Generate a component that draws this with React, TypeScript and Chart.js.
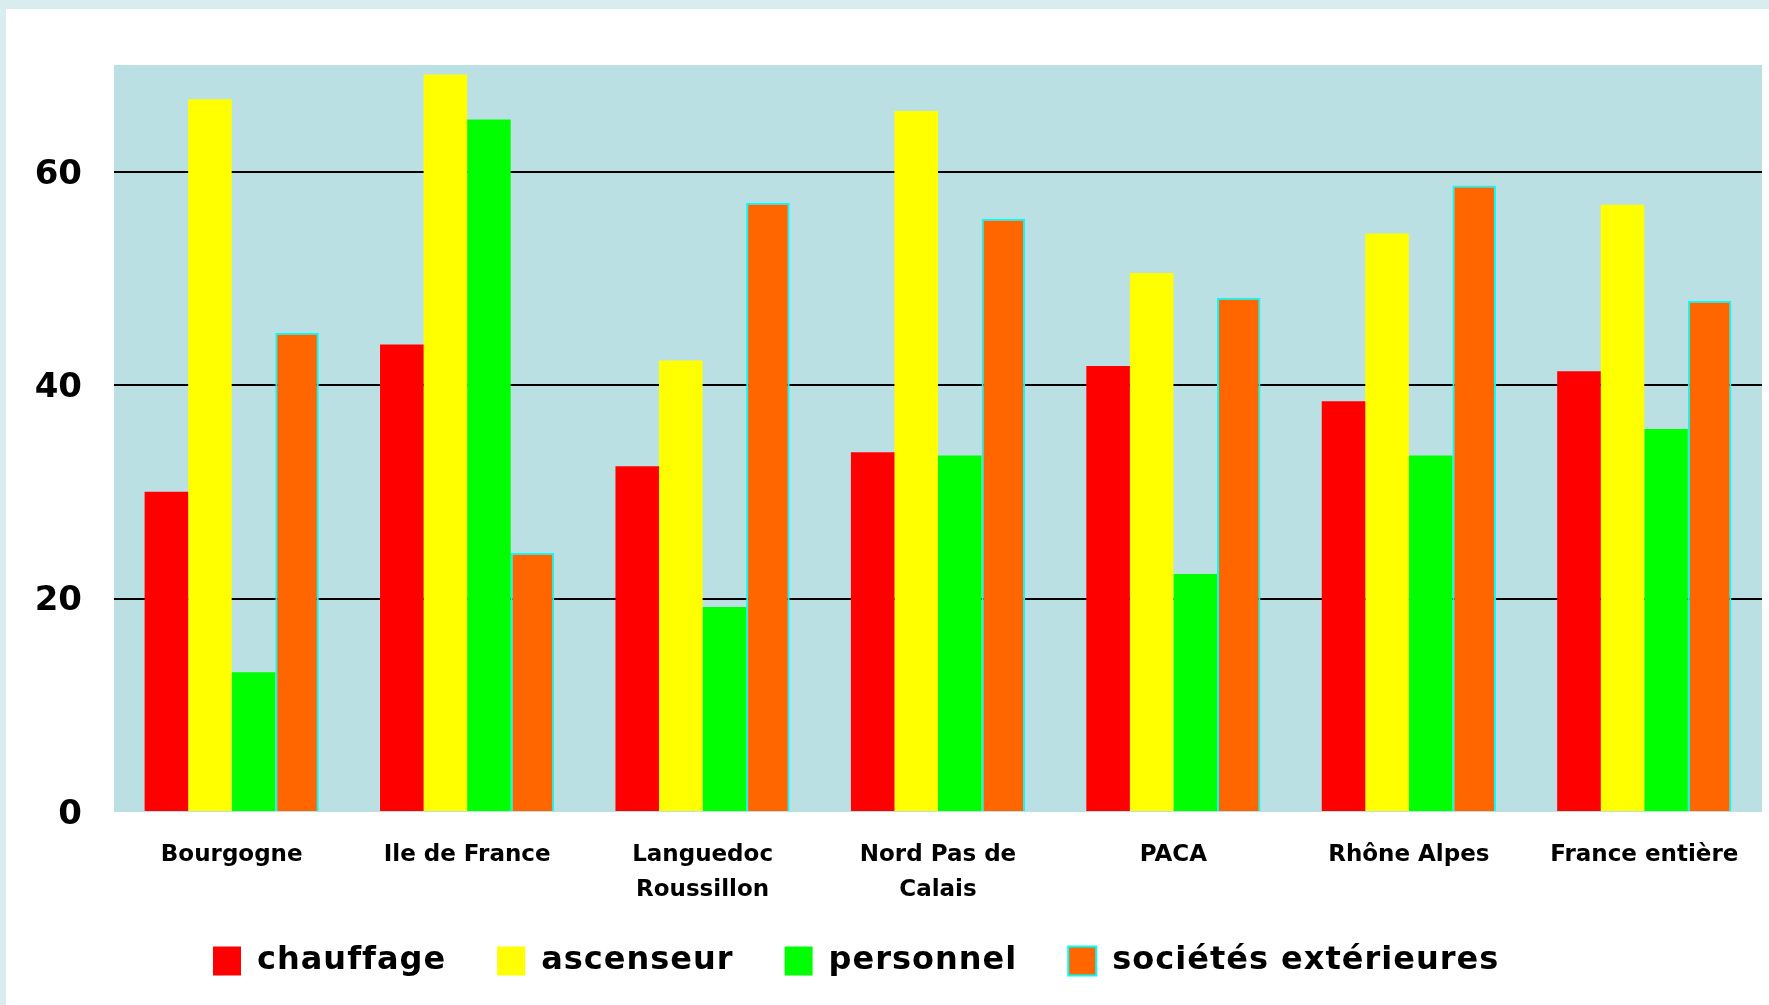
import React, { useEffect, useRef } from 'react';
import { Chart, registerables } from 'chart.js';

Chart.register(...registerables);

const categories: (string | string[])[] = [
  'Bourgogne',
  'Ile de France',
  ['Languedoc', 'Roussillon'],
  ['Nord Pas de', 'Calais'],
  'PACA',
  'Rhône Alpes',
  'France entière',
];
const seriesNames = ['chauffage', 'ascenseur', 'personnel', 'sociétés extérieures'];
const chauffage = [30.0, 43.8, 32.4, 33.7, 41.8, 38.5, 41.3];
const ascenseur = [66.8, 69.1, 42.3, 65.7, 50.5, 54.2, 56.9];
const personnel = [13.1, 64.9, 19.2, 33.4, 22.3, 33.4, 35.9];
const societes = [44.9, 24.3, 57.1, 55.6, 48.2, 58.7, 47.9];
const yTicks = [0, 20, 40, 60];

const FONT = '"DejaVu Sans", Verdana, sans-serif';
const LEGEND_PAD = 51;

export default function App() {
  const ref = useRef<HTMLCanvasElement>(null);

  useEffect(() => {
    const canvas = ref.current;
    if (!canvas) return;

    const plotBg = {
      id: 'plotBg',
      beforeDraw(chart: any) {
        const { ctx, chartArea: a } = chart;
        ctx.save();
        ctx.fillStyle = '#bbe0e3';
        ctx.fillRect(a.left, a.top, a.right - a.left, a.bottom - a.top);
        ctx.restore();
      },
    };

    const legendPlace = {
      id: 'legendPlace',
      beforeUpdate(chart: any) {
        const lg: any = chart.legend;
        if (lg && !lg.__patched) {
          lg.__patched = true;
          const orig = lg.draw.bind(lg);
          lg.draw = function (...args: any[]) {
            const c = this.ctx;
            c.save();
            try {
              c.letterSpacing = '1px';
            } catch (e) {}
            orig(...args);
            c.restore();
          };
        }
      },
      afterLayout(chart: any) {
        const lg: any = chart.legend;
        if (lg) {
          const h = lg.height;
          const top = 936 - LEGEND_PAD;
          lg.left = 207 - LEGEND_PAD;
          lg.right = chart.width;
          lg.top = top;
          lg.bottom = top + h;
        }
      },
    };

    const chart = new Chart(canvas, {
      type: 'bar',
      data: {
        labels: categories as any,
        datasets: [
          { label: seriesNames[0], data: chauffage, backgroundColor: '#ff0000', borderWidth: 0 },
          { label: seriesNames[1], data: ascenseur, backgroundColor: '#ffff00', borderWidth: 0 },
          { label: seriesNames[2], data: personnel, backgroundColor: '#00ff00', borderWidth: 0 },
          {
            label: seriesNames[3],
            data: societes,
            backgroundColor: '#ff6600',
            borderColor: '#00ffff',
            borderWidth: 2,
          },
        ],
      },
      options: {
        responsive: false,
        animation: false,
        devicePixelRatio: 1,
        layout: { padding: { left: 0, right: 7, top: 56, bottom: 0 } },
        datasets: { bar: { categoryPercentage: 0.74, barPercentage: 1 } },
        scales: {
          x: {
            grid: { display: false },
            border: { display: false },
            ticks: {
              color: '#000',
              font: { family: FONT, size: 23, weight: 'bold', lineHeight: 1.52 },
              padding: 18,
              maxRotation: 0,
              minRotation: 0,
              autoSkip: false,
            },
            afterFit(s: any) {
              s.height = 100;
            },
          },
          y: {
            min: 0,
            max: 70,
            grid: {
              color: (c: any) => (c.tick && c.tick.value === 0 ? 'rgba(0,0,0,0)' : '#000'),
              lineWidth: 2,
              drawTicks: false,
            },
            border: { display: false },
            ticks: {
              color: '#000',
              font: { family: FONT, size: 34, weight: 'bold' },
              padding: 32,
              labelOffset: 3,
            },
            afterBuildTicks(s: any) {
              s.ticks = yTicks.map((v) => ({ value: v }));
            },
            afterFit(s: any) {
              s.width = 108;
            },
          },
        },
        plugins: {
          legend: {
            position: 'bottom',
            align: 'start',
            labels: {
              color: '#000',
              font: { family: FONT, size: 32, weight: 'bold' },
              boxWidth: 28,
              boxHeight: 29,
              padding: LEGEND_PAD,
            },
          },
          tooltip: { enabled: false },
        },
      } as any,
      plugins: [
        plotBg,
        legendPlace,
        {
          id: 'fixArea',
          beforeLayout(chart: any) {
            // keep the plot bottom fixed regardless of legend height
            const lg: any = chart.legend;
            const opts: any = chart.options.layout.padding;
            if (lg) {
              const labelOpts = chart.options.plugins.legend.labels;
              const fs = labelOpts.font.size;
              const legendH = labelOpts.padding + Math.max(fs, labelOpts.boxHeight) + 10;
              opts.bottom = Math.max(0, 996 - 806.5 - 100 - legendH);
            }
          },
        },
      ],
    });

    return () => chart.destroy();
  }, []);

  return (
    <div
      style={{
        position: 'absolute',
        left: 0,
        top: 0,
        width: 1769,
        height: 1005,
        background: '#d9ecef',
        overflow: 'hidden',
      }}
    >
      <div
        style={{
          position: 'absolute',
          left: 6,
          top: 9,
          width: 1763,
          height: 996,
          background: '#ffffff',
        }}
      >
        <canvas ref={ref} width={1763} height={996} style={{ display: 'block' }} />
      </div>
    </div>
  );
}
